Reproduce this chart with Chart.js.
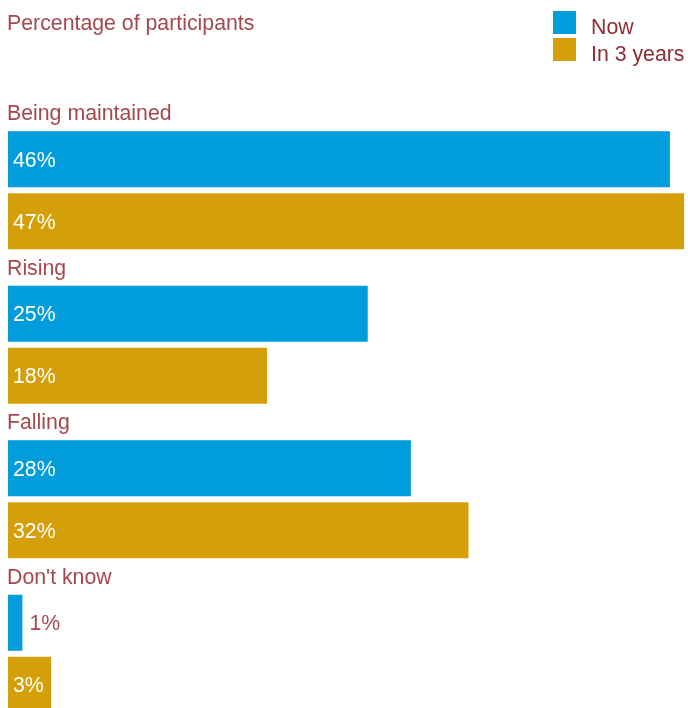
<!DOCTYPE html>
<html>
<head>
<meta charset="utf-8">
<script src="https://cdn.jsdelivr.net/npm/chart.js@4/dist/chart.umd.min.js"></script>
<style>
    html, body { margin: 0; padding: 0; background: #ffffff; overflow: hidden; }
    #wrap { width: 688px; height: 740px; }
</style>
</head>
<body>
<div id="wrap"><canvas id="share_canvas" width="688" height="740"></canvas></div>
<script>
const categories = ["Being maintained", "Rising", "Falling", "Don't know"];
const series_labels = ["Now", "In 3 years"];
const now_values = [46, 25, 28, 1];
const in_3_years_values = [47, 18, 32, 3];
const axis_title = "Percentage of participants";

const FONT = '21.3px "Liberation Sans", Arial, Helvetica, sans-serif';
const BLUE = "#009cdc";
const GOLD = "#d49f09";
const LABEL_RED = "#a5484d";
const LEGEND_RED = "#8f2c34";

// group headings, value labels, title and the stacked legend
const annotate_plugin = {
    id: "annotate",
    afterDatasetsDraw(chart) {
        let ctx = chart.ctx;
        ctx.save();
        ctx.font = FONT;

        // headings above each pair of bars
        let first_meta = chart.getDatasetMeta(0);
        ctx.fillStyle = LABEL_RED;
        ctx.textAlign = "left";
        ctx.textBaseline = "alphabetic";
        first_meta.data.forEach((bar, i) => {
            let top = bar.y - bar.height / 2;
            ctx.fillText(chart.data.labels[i], 7, top - 11);
        });

        // percentages, inside the bar when it fits
        ctx.textBaseline = "middle";
        chart.data.datasets.forEach((dataset, d) => {
            let meta = chart.getDatasetMeta(d);
            meta.data.forEach((bar, i) => {
                let text = dataset.data[i] + "%";
                let width = ctx.measureText(text).width;
                let bar_width = bar.x - bar.base;
                if (width + 10 <= bar_width) {
                    ctx.fillStyle = "#ffffff";
                    ctx.fillText(text, bar.base + 5, bar.y + 1.5);
                } else {
                    ctx.fillStyle = LABEL_RED;
                    ctx.fillText(text, bar.x + 7, bar.y + 1.5);
                }
            });
        });
        ctx.restore();
    },
    afterDraw(chart) {
        let ctx = chart.ctx;
        ctx.save();
        ctx.font = FONT;
        ctx.textAlign = "left";
        ctx.textBaseline = "alphabetic";

        ctx.fillStyle = LABEL_RED;
        ctx.fillText(axis_title, 7, 30);

        chart.data.datasets.forEach((dataset, d) => {
            let box_top = 11 + d * 27;
            ctx.fillStyle = dataset.backgroundColor;
            ctx.fillRect(553, box_top, 23, 23);
            ctx.fillStyle = LEGEND_RED;
            ctx.fillText(dataset.label, 591, box_top + 22.5);
        });
        ctx.restore();
    }
};

let data = {
    labels: categories,
    datasets: [
        {
            label: series_labels[0],
            data: now_values,
            backgroundColor: BLUE,
            borderWidth: 0
        },
        {
            label: series_labels[1],
            data: in_3_years_values,
            backgroundColor: GOLD,
            borderWidth: 0
        }
    ]
};

let config = {
    type: "bar",
    data: data,
    options: {
        indexAxis: "y",
        responsive: false,
        animation: false,
        devicePixelRatio: 1,
        categoryPercentage: 0.8026,
        barPercentage: 0.9032,
        layout: {
            padding: { left: 8, right: 3.7, top: 113, bottom: 9 }
        },
        scales: {
            x: {
                type: "linear",
                min: 0,
                max: 47,
                display: false
            },
            y: {
                display: false
            }
        },
        plugins: {
            legend: { display: false },
            tooltip: { enabled: false },
            title: { display: false }
        }
    },
    plugins: [annotate_plugin]
};

new Chart(document.getElementById("share_canvas"), config);
</script>
</body>
</html>
